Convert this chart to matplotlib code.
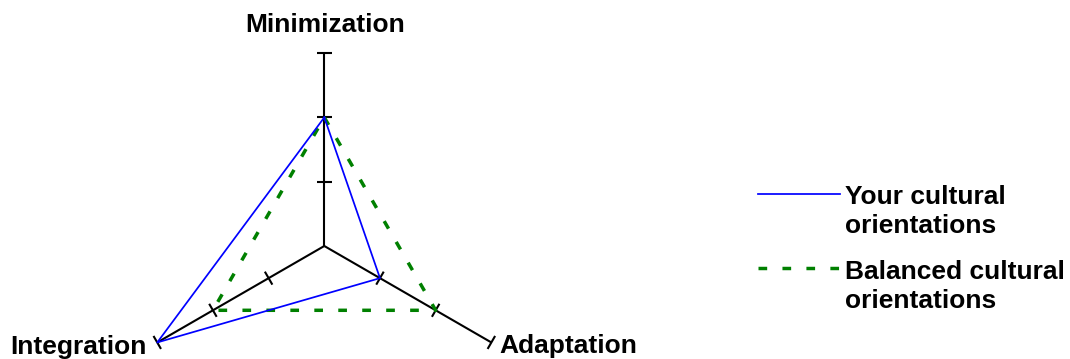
import numpy as np
import matplotlib
matplotlib.use("Agg")
import matplotlib.pyplot as plt

categories = ["Minimization", "Adaptation", "Integration"]
angles_deg = [90, -30, 210]
your_values = [2, 1, 3]
balanced_values = [2, 2, 2]
tick_values = [1, 2, 3]
r_max = 3
series_labels = ["Your cultural\norientations", "Balanced cultural\norientations"]

W, H, DPI = 1070, 359, 100
unit = 64.3  # pixels per data unit
cx, cy = 324.3, 246.0  # centre in pixels from top-left

fig = plt.figure(figsize=(W / DPI, H / DPI), dpi=DPI)
ax = fig.add_axes([0, 0, 1, 1])
ax.set_xlim(-cx / unit, (W - cx) / unit)
ax.set_ylim(-(H - cy) / unit, cy / unit)
ax.axis("off")

FONT = "Liberation Sans"
FS = 19
GREEN_LS = (0, (2.5, 4.4))

th = np.deg2rad(angles_deg)

def pol(r, t):
    return r * np.cos(t), r * np.sin(t)

# axes spokes and ticks
tick_half = 7.5 / unit
for t in th:
    x1, y1 = pol(r_max, t)
    ax.plot([0, x1], [0, y1], color="black", lw=1.5, solid_capstyle="butt", zorder=1)
    for tv in tick_values:
        px, py = pol(tv, t)
        nx, ny = -np.sin(t), np.cos(t)
        ax.plot([px - nx * tick_half, px + nx * tick_half],
                [py - ny * tick_half, py + ny * tick_half],
                color="black", lw=1.5, solid_capstyle="butt", zorder=1)

# series
def closed(vals):
    xs, ys = pol(np.array(vals, float), th)
    return np.append(xs, xs[0]), np.append(ys, ys[0])

gx, gy = closed(balanced_values)
ax.plot(gx, gy, color="#008000", lw=2.5, linestyle=GREEN_LS,
        dash_capstyle="butt", zorder=2)
bx, by = closed(your_values)
ax.plot(bx, by, color="#0000ff", lw=1.25, zorder=3)

# axis labels
label_offsets = {"Minimization": (0.5, 21, "center"),
                 "Adaptation": (8, -11, "left"),
                 "Integration": (-11, -12, "right")}
for name, t in zip(categories, th):
    dx, dy, ha = label_offsets[name]
    ax.annotate(name, xy=pol(r_max, t), xytext=(dx, dy), textcoords="offset pixels",
                ha=ha, va="baseline", fontsize=FS, fontweight="bold", family=FONT)

# legend (drawn manually)
to_data = lambda px, py: ((px - cx) / unit, (cy - py) / unit)
leg_items = [("#0000ff", "-", 1.25, 194, 233), ("#008000", GREEN_LS, 2.5, 268, 308)]
for (col, ls, lw, ly, base), lab in zip(leg_items, series_labels):
    xa, ya = to_data(758, ly)
    xb, _ = to_data(840, ly)
    ax.plot([xa, xb], [ya, ya], color=col, lw=lw, linestyle=ls, dash_capstyle="butt")
    tx, ty = to_data(845, base)
    ax.text(tx, ty, lab, ha="left", va="baseline", fontsize=FS, fontweight="bold",
            family=FONT, linespacing=1.27)

fig.savefig("out.png", dpi=DPI)
